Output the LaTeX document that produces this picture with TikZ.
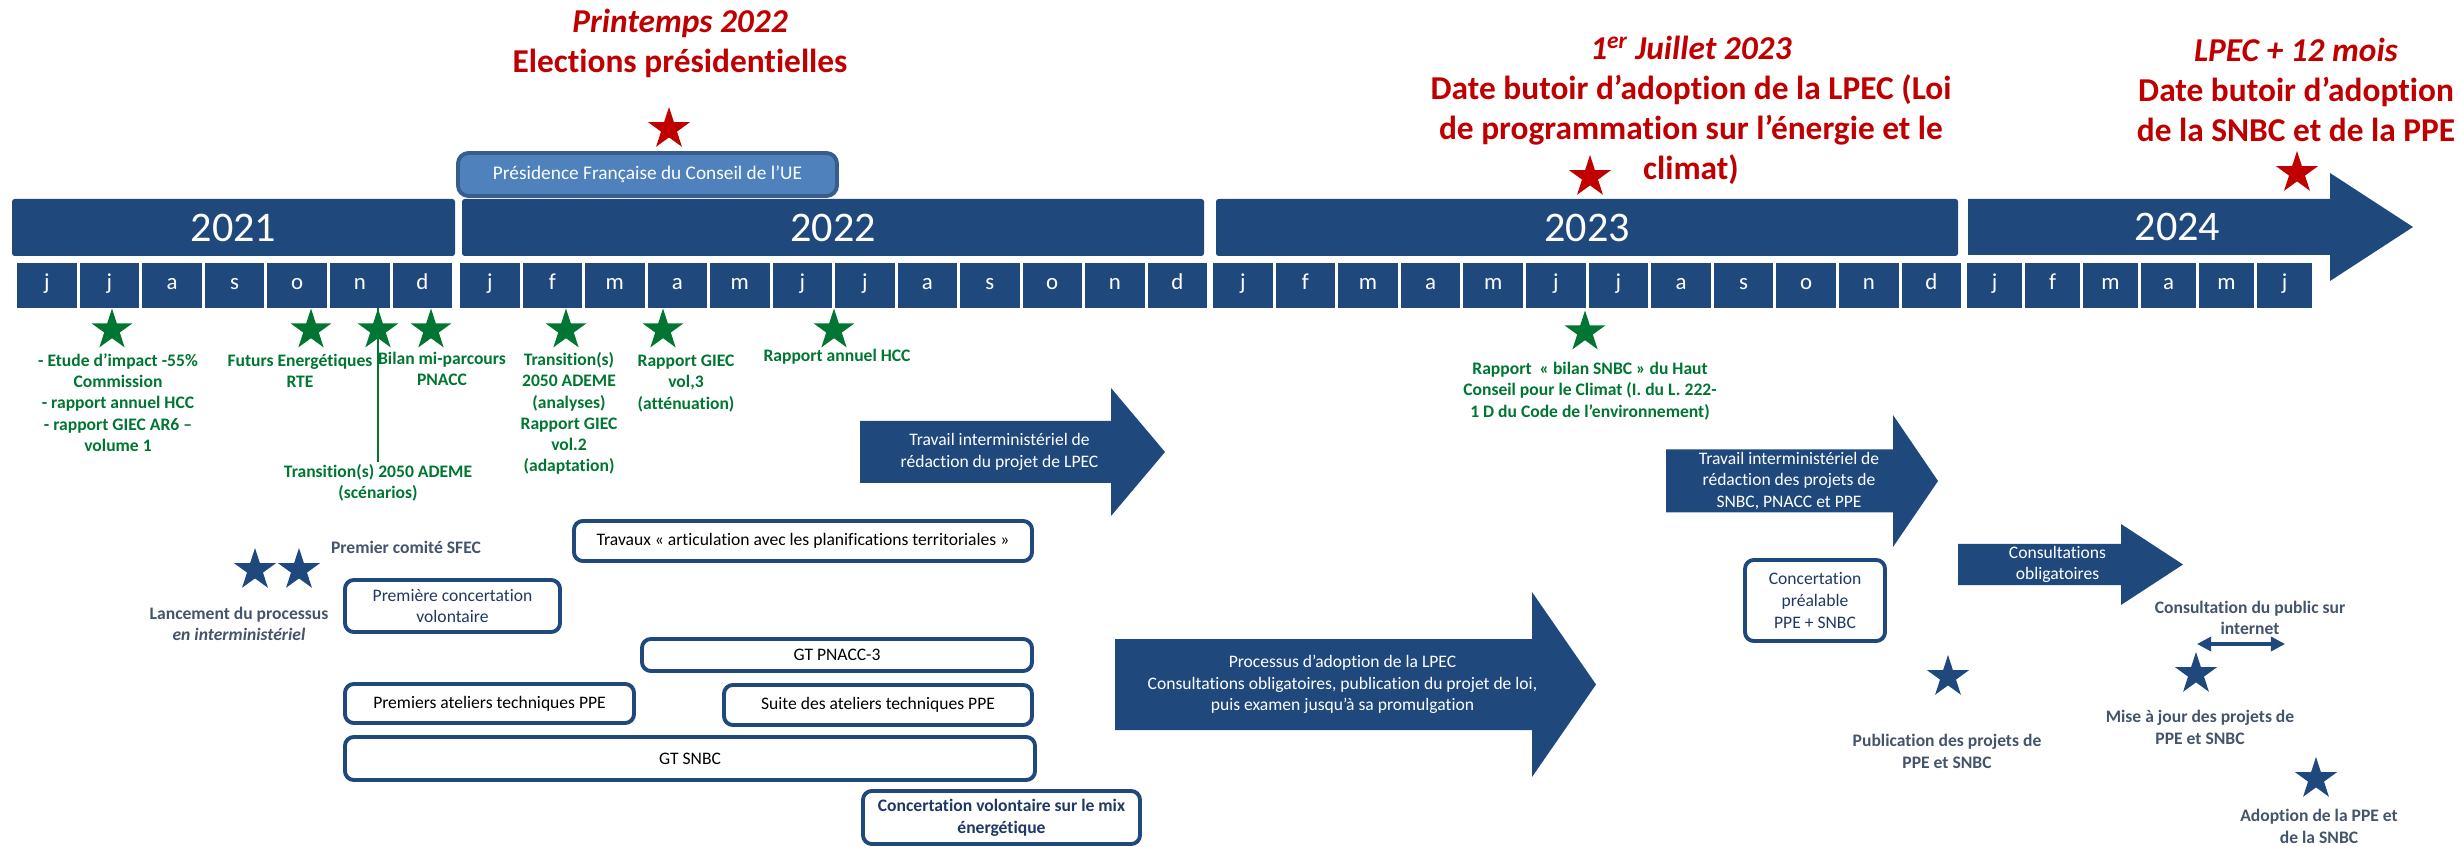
\documentclass[tikz,border=0pt]{standalone}
\usepackage{fontspec}
\setmainfont{Carlito}[Ligatures=NoCommon]
\usetikzlibrary{shapes.geometric,arrows.meta}
\definecolor{navy}{RGB}{31,73,125}
\definecolor{boxnavy}{RGB}{31,56,100}
\definecolor{deepgreen}{RGB}{0,118,50}
\definecolor{darkred}{RGB}{192,0,0}
\definecolor{presfill}{RGB}{79,129,189}
\definecolor{presline}{RGB}{56,93,138}
\definecolor{slate}{RGB}{68,84,106}
\tikzset{
  yearbar/.style={fill=navy,text=white,rounded corners=1.5pt,inner sep=0pt,font=\fontsize{24}{28}\selectfont},
  monthcell/.style={fill=navy,text=white,inner sep=0pt,minimum height={45*0.02cm},text height=0.7em,text depth=0.2em,font=\fontsize{13}{15}\selectfont},
  glabel/.style={text=deepgreen,align=center,inner sep=1pt,font=\bfseries\fontsize{10}{12.1}\selectfont},
  slabel/.style={text=slate,align=center,inner sep=1pt,font=\bfseries\fontsize{10}{12.1}\selectfont},
  redhead/.style={text=darkred,align=center,inner sep=0pt,font=\bfseries\fontsize{19}{22.8}\selectfont},
  obox/.style={draw=navy,line width=2.2pt,rounded corners=5pt,fill=white,align=center,inner sep=0pt,font=\fontsize{10}{12.4}\selectfont},
  presbox/.style={fill=presfill,draw=presline,line width=2.2pt,rounded corners=6pt,text=white,inner sep=0pt,font=\fontsize{11}{13}\selectfont},
  arrowtext/.style={text=white,align=center,inner sep=0pt,font=\fontsize{10}{12.2}\selectfont},
}
\newcommand{\gstar}[3]{\node[star,star points=5,star point ratio=2.618,fill=deepgreen,inner sep=0pt,minimum size={43*0.02cm}] (#3) at (#1,#2) {};}
\newcommand{\bstar}[3]{\node[star,star points=5,star point ratio=2.618,fill=navy,inner sep=0pt,minimum size={44*0.02cm}] (#3) at (#1,#2) {};}
\newcommand{\rstar}[3]{\node[star,star points=5,star point ratio=2.618,fill=darkred,inner sep=0pt,minimum size={44*0.02cm}] (#3) at (#1,#2) {};}
\newcommand{\monthrow}[4]{\foreach \m [count=\i from 0] in {#4}
  \node[monthcell,minimum width={(#3-3)*0.02cm}] (#1-\i) at ({#2+(\i+0.5)*#3-1.5},285.5) {\m};}
\newcommand{\obox}[6]{\node[obox,minimum width={(#4-#2-2)*0.02cm},minimum height={(#5-#3-2)*0.02cm}] (#1) at ({(#2+#4)/2},{(#3+#5)/2}) {#6};}
\newcommand{\blockarr}[8]{\fill[navy] (#2,{#5-#6}) -- (#3,{#5-#6}) -- (#3,{#5-#7}) -- (#4,#5) -- (#3,{#5+#7}) -- (#3,{#5+#6}) -- (#2,{#5+#6}) -- cycle;
  \node[arrowtext] (#1) at ({(#2+#4)/2-13},#5) {#8};}

\begin{document}
\begin{tikzpicture}[x=0.02cm,y=-0.02cm]
	\useasboundingbox (0,0) rectangle (2461,847);
	% years and months
	\node[yearbar,minimum width={443*0.02cm},minimum height={57*0.02cm}] (y2021) at (233.5,227.5) {2021};
	\node[yearbar,minimum width={742*0.02cm},minimum height={57*0.02cm}] (y2022) at (833,227.5) {2022};
	\node[yearbar,minimum width={742*0.02cm},minimum height={57*0.02cm}] (y2023) at (1587,227.5) {2023};
	\blockarr{y2024}{1968}{2330}{2413}{227}{28}{54}{\fontsize{24}{28}\selectfont 2024}
	\monthrow{m21}{17}{62.6}{j,j,a,s,o,n,d}
	\monthrow{m22}{460}{62.5}{j,f,m,a,m,j,j,a,s,o,n,d}
	\monthrow{m23}{1213}{62.6}{j,f,m,a,m,j,j,a,s,o,n,d}
	\monthrow{m24}{1967}{58}{j,f,m,a,m,j}
	% red milestones
	\node[redhead] (pres) at (680,43) {\textit{Printemps 2022}\\Elections présidentielles};
	\rstar{669}{129}{rPres}
	\node[presbox,minimum width={379*0.02cm},minimum height={43*0.02cm}] (pfue) at (647.5,174.5) {Présidence Française du Conseil de l’UE};
	\node[redhead] (lpec) at (1691,110) {\textit{1\textsuperscript{er} Juillet 2023}\\Date butoir d’adoption de la LPEC (Loi\\de programmation sur l’énergie et le\\climat)};
	\rstar{1590}{177}{rLpec}
	\node[redhead] (ppe) at (2296,90) {\textit{LPEC + 12 mois}\\Date butoir d’adoption\\de la SNBC et de la PPE};
	\rstar{2297}{173}{rPpe}
	% green milestones
	\gstar{112}{330}{sEtude} \gstar{311}{330}{sRte} \gstar{378}{330}{sAdeme} \gstar{431}{330}{sPnacc}
	\gstar{566}{330}{sAnalyses} \gstar{663}{330}{sGiec} \gstar{834}{330}{sHcc} \gstar{1585}{332}{sBilan}
	\node[glabel] (lEtude) at (118,402.5) {- Etude d’impact -55\%\\Commission\\- rapport annuel HCC\\- rapport GIEC AR6 –\\volume 1};
	\node[glabel] (lRte) at (300,370.5) {Futurs Energétiques\\RTE};
	\node[glabel] (lPnacc) at (442,369) {Bilan mi-parcours\\PNACC};
	\node[glabel] (lAdeme) at (378,482.5) {Transition(s) 2050 ADEME\\(scénarios)};
	\draw[deepgreen,line width=1.2pt] (sAdeme |- m21-5.south) -- (lAdeme.north);
	\node[glabel] (lAnalyses) at (569,413.5) {Transition(s)\\2050 ADEME\\(analyses)\\Rapport GIEC\\vol.2\\(adaptation)};
	\node[glabel] (lGiec) at (686,383.5) {Rapport GIEC\\vol,3\\(atténuation)};
	\node[glabel] (lHcc) at (837,357) {Rapport annuel HCC};
	\node[glabel] (lBilan) at (1590,391) {Rapport~ « bilan SNBC » du Haut\\Conseil pour le Climat (I. du L. 222-\\1 D du Code de l’environnement)};
	% process
	\bstar{255}{570}{bLance} \bstar{299}{570}{bComite}
	\node[slabel] (lComite) at (406,547) {Premier comité SFEC};
	\node[slabel] (lLance) at (239,624) {Lancement du processus\\\textit{en interministériel}};
	\obox{premconc}{344}{579}{561}{633}{\color{boxnavy}Première concertation\\\color{boxnavy}volontaire}
	\obox{travaux}{573}{520}{1033}{562}{Travaux « articulation avec les planifications territoriales »}
	\obox{pnacc}{641}{638}{1033}{672}{GT PNACC-3}
	\obox{ateliers}{344}{683}{635}{724}{Premiers ateliers techniques PPE}
	\obox{suite}{723}{684}{1033}{726}{Suite des ateliers techniques PPE}
	\obox{gtsnbc}{344}{736}{1036}{781}{GT SNBC}
	\obox{mix}{862}{790}{1141}{845}{\bfseries\color{boxnavy}Concertation volontaire sur le mix\\\bfseries\color{boxnavy}énergétique}
	\blockarr{aLpec}{860}{1111}{1165}{452}{31}{64}{Travail interministériel de\\rédaction du projet de LPEC}
	\blockarr{aAdopt}{1115}{1532}{1596}{684.5}{45.5}{92.5}{Processus d’adoption de la LPEC\\Consultations obligatoires, publication du projet de loi,\\puis examen jusqu’à sa promulgation}
	\blockarr{aProj}{1666}{1893}{1938}{481}{31.5}{66}{Travail interministériel de\\rédaction des projets de\\SNBC, PNACC et PPE}
	\blockarr{aConsult}{1958}{2121}{2183}{564.5}{20.5}{40.5}{Consultations\\obligatoires}
	\obox{prealable}{1744}{559}{1886}{642}{\color{boxnavy}Concertation\\\color{boxnavy}préalable\\\color{boxnavy}PPE + SNBC}
	\node[slabel] (lPublic) at (2250,618) {Consultation du public sur\\internet};
	\coordinate (pubL) at (2197,644);
	\coordinate (pubR) at (2285,644);
	\draw[navy,line width=1.8pt,{Triangle[length=8pt,width=8pt]}-{Triangle[length=8pt,width=8pt]}] (pubL) -- (pubR);
	\bstar{1948}{677}{bPub} \bstar{2196}{674}{bMaj} \bstar{2316}{779}{bAdopt}
	\node[slabel] (lPub) at (1947,751.5) {Publication des projets de\\PPE et SNBC};
	\node[slabel] (lMaj) at (2200,727.5) {Mise à jour des projets de\\PPE et SNBC};
	\node[slabel] (lAdopt) at (2319,826.5) {Adoption de la PPE et\\de la SNBC};
\end{tikzpicture}
\end{document}
